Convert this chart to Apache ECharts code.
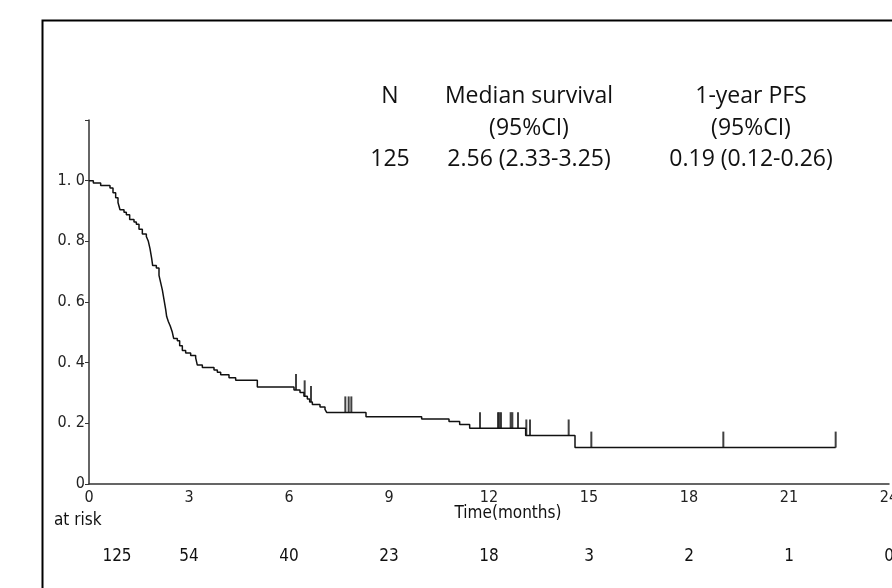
<!DOCTYPE html>
<html>
<head>
<meta charset="utf-8">
<script src="https://cdn.jsdelivr.net/npm/echarts@6/dist/echarts.min.js"></script>
<style>
  html, body { margin: 0; padding: 0; background: #fff; }
  #main { width: 892px; height: 588px; }
</style>
</head>
<body>
<div id="main"></div>
<script>
// KM step points (time in months, survival after the event)
var kmTime = [0, 0.13, 0.35, 0.63, 0.72, 0.8, 0.87, 0.93, 1.05, 1.12, 1.22, 1.35, 1.42, 1.5, 1.6, 1.72, 1.78,
              1.83, 1.88, 1.91, 2.02, 2.1, 2.15, 2.2, 2.25, 2.3, 2.33, 2.38, 2.44, 2.5, 2.54, 2.65, 2.72, 2.8, 2.9,
              3.05, 3.2, 3.25, 3.4, 3.75, 3.85, 3.95, 4.2, 4.4, 5.05, 6.15, 6.33, 6.45, 6.55, 6.62, 6.7, 6.93,
              7.08, 7.13, 8.31, 9.98, 10.8, 11.12, 11.42, 13.1, 14.58, 22.4];
var kmSurv = [1.0, 0.992, 0.984, 0.976, 0.96, 0.944, 0.928, 0.904, 0.896, 0.888, 0.872, 0.864, 0.856, 0.84, 0.824, 0.816, 0.8,
              0.776, 0.744, 0.72, 0.712, 0.688, 0.664, 0.64, 0.608, 0.576, 0.552, 0.536, 0.52, 0.5, 0.48, 0.472, 0.456, 0.44, 0.432,
              0.424, 0.416, 0.392, 0.384, 0.376, 0.368, 0.36, 0.35, 0.342, 0.32, 0.31, 0.302, 0.289, 0.28, 0.27, 0.262, 0.254,
              0.246, 0.236, 0.222, 0.214, 0.206, 0.196, 0.184, 0.16, 0.12, 0.12];

// censored cases
var censorTime = [6.21, 6.47, 6.66, 7.69, 7.79, 7.87, 11.73, 12.27, 12.31, 12.36, 12.65, 12.7, 12.87,
                  13.12, 13.23, 14.39, 15.07, 19.03, 22.4];
var censorSurv = [0.31, 0.289, 0.27, 0.236, 0.236, 0.236, 0.184, 0.184, 0.184, 0.184, 0.184, 0.184, 0.184,
                  0.16, 0.16, 0.16, 0.12, 0.12, 0.12];

// number at risk
var riskTimes = [0, 3, 6, 9, 12, 15, 18, 21, 24];
var riskCounts = ['125', '54', '40', '23', '18', '3', '2', '1', '0'];

// summary table
var headerCols = ['N', 'Median survival', '1-year PFS'];
var headerSub = ['', '(95%CI)', '(95%CI)'];
var headerVals = ['125', '2.56 (2.33-3.25)', '0.19 (0.12-0.26)'];

var narrow = "'DejaVu Sans Condensed', 'Liberation Sans Narrow', sans-serif";
var chart = echarts.init(document.getElementById('main'));

var kmData = kmTime.map(function (t, i) { return [t, kmSurv[i]]; });
var censorData = censorTime.map(function (t, i) { return [t, censorSurv[i]]; });

var option = {
    animation: false,
    backgroundColor: '#fff',
    grid: { left: 89, top: 120, width: 800, height: 364, outerBoundsMode: 'none', containLabel: false },
    xAxis: {
        type: 'value', min: 0, max: 24, interval: 3,
        axisLine: { lineStyle: { color: '#333', width: 1.5 } },
        axisTick: { show: false },
        splitLine: { show: false },
        axisLabel: { color: '#222', fontSize: 16, fontFamily: narrow, margin: 6, hideOverlap: false }
    },
    yAxis: {
        type: 'value', min: 0, max: 1.2, interval: 0.2,
        axisLine: { show: true, lineStyle: { color: '#333', width: 1.5 } },
        axisTick: { show: true, length: 4, lineStyle: { color: '#333' } },
        splitLine: { show: false },
        axisLabel: {
            color: '#222', fontSize: 16, fontFamily: narrow, margin: 4,
            formatter: function (v) {
                if (v > 1.05) return '';
                if (v === 0) return '0';
                return v.toFixed(1).replace('.', '. ');
            }
        }
    },
    series: [
        {
            type: 'line', step: 'end', data: kmData, showSymbol: false,
            lineStyle: { color: '#111', width: 1.5 }
        },
        {
            type: 'scatter', data: censorData, symbol: 'rect',
            symbolSize: [2, 16], symbolOffset: [0, -8],
            itemStyle: { color: '#111' }
        }
    ]
};
chart.setOption(option);

// texts placed at axis positions
var g = [];
g.push({ type: 'rect', left: 40, top: 18, shape: { width: 900, height: 620 },
         style: { fill: 'none', stroke: '#000', lineWidth: 2 }, silent: true });

var colX = [390, 529, 751];
var rowY = [96, 128, 159];
var hFont = "'Open Sans', 'Noto Sans', sans-serif";
headerCols.forEach(function (s, i) {
    [s, headerSub[i], headerVals[i]].forEach(function (txt, r) {
        if (!txt) return;
        g.push({ type: 'text', x: colX[i], y: rowY[r],
                 style: { text: txt, font: '23px ' + hFont, fill: '#111', textAlign: 'center', textVerticalAlign: 'middle' } });
    });
});

g.push({ type: 'text', x: 508, y: 514,
         style: { text: 'Time(months)', font: '17px ' + narrow, fill: '#111', textAlign: 'center', textVerticalAlign: 'middle' } });
g.push({ type: 'text', x: 54, y: 521,
         style: { text: 'at risk', font: '17px ' + narrow, fill: '#111', textAlign: 'left', textVerticalAlign: 'middle' } });

riskTimes.forEach(function (t, i) {
    var px = chart.convertToPixel({ gridIndex: 0 }, [t, 0])[0];
    if (i === 0) px += 28;
    g.push({ type: 'text', x: px, y: 557,
             style: { text: riskCounts[i], font: '17px ' + narrow, fill: '#111', textAlign: 'center', textVerticalAlign: 'middle' } });
});

chart.setOption({ graphic: g });
</script>
</body>
</html>
